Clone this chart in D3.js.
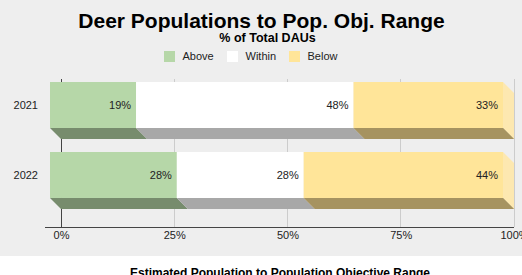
<!DOCTYPE html>
<html>
<head>
<meta charset="utf-8">
<script src="https://cdn.jsdelivr.net/npm/d3@7"></script>
<style>
  body { margin: 0; background: #fff; }
  svg { display: block; font-family: "Liberation Sans", Arial, sans-serif; }
</style>
</head>
<body>
<svg id="chart" width="522" height="275"></svg>
<script>
// chart data
const years = ["2021", "2022"];
const categories = ["Above", "Within", "Below"];
const above = [19, 28];
const within = [48, 28];
const below = [33, 44];
const tickValues = [0, 25, 50, 75, 100];

const frontColor = { Above: "#b6d7a8", Within: "#ffffff", Below: "#ffe599" };
const bottomColor = { Above: "#778c6d", Within: "#a8a8a8", Below: "#a69360" };
const sideColor = { Above: "#cde5c2", Within: "#eeeeee", Below: "#fde8b0" };

const DEPTH = 11;
const W = 522, H = 275;

const svg = d3.select("#chart");

// grey panel, white strip under it
svg.append("rect").attr("width", W).attr("height", 256).attr("fill", "#eeeeee");

const x = d3.scaleLinear().domain([0, 100]).range([61, 514]);
const y = d3.scaleBand()
    .domain(years)
    .range([80, 222])
    .paddingInner(0.343)
    .paddingOuter(0.186);

// stack the series
const rows = years.map((yr, i) => ({ year: yr, Above: above[i], Within: within[i], Below: below[i] }));
const stacked = d3.stack().keys(categories)(rows);

// grid lines
svg.append("g")
    .selectAll("line")
    .data(tickValues)
    .join("line")
    .attr("x1", d => x(d)).attr("x2", d => x(d))
    .attr("y1", 79).attr("y2", 227)
    .attr("stroke", d => d === 0 ? "#444" : "#cccccc")
    .attr("stroke-width", 1)
    .attr("shape-rendering", "crispEdges");

// x axis line
svg.append("line")
    .attr("x1", 45).attr("x2", x(100))
    .attr("y1", 227.5).attr("y2", 227.5)
    .attr("stroke", "#444");

// tick labels
const xAxis = svg.append("g")
    .attr("transform", "translate(0,231)")
    .call(d3.axisBottom(x).tickValues(tickValues).tickSize(0).tickPadding(0).tickFormat(d => d + "%"));
xAxis.select(".domain").remove();
xAxis.selectAll("text")
    .attr("dy", "0.71em")
    .style("font-size", "11px")
    .style("font-family", "Liberation Sans, Arial, sans-serif")
    .attr("fill", "#222");

// y labels
svg.append("g")
    .selectAll("text")
    .data(years)
    .join("text")
    .attr("x", 38)
    .attr("y", d => y(d) - DEPTH + y.bandwidth() / 2)
    .attr("dy", "0.35em")
    .attr("text-anchor", "end")
    .style("font-size", "11px")
    .attr("fill", "#222")
    .text(d => d);

// 3D bars: bottom faces first, then fronts
const bars = svg.append("g");
stacked.forEach(series => {
    const key = series.key;
    series.forEach(seg => {
        const yr = seg.data.year;
        const fx0 = x(seg[0]) - DEPTH, fx1 = x(seg[1]) - DEPTH;
        const fy0 = y(yr) - DEPTH, fy1 = fy0 + y.bandwidth();
        bars.append("polygon")
            .attr("points", [[fx0, fy1], [fx1, fy1], [fx1 + DEPTH, fy1 + DEPTH], [fx0 + DEPTH, fy1 + DEPTH]].join(" "))
            .attr("fill", bottomColor[key]);
    });
});
stacked.forEach(series => {
    const key = series.key;
    series.forEach(seg => {
        const yr = seg.data.year;
        const fx0 = x(seg[0]) - DEPTH, fx1 = x(seg[1]) - DEPTH;
        const fy0 = y(yr) - DEPTH, fy1 = fy0 + y.bandwidth();
        if (seg[1] === 100) {
            bars.append("polygon")
                .attr("points", [[fx1, fy0], [fx1 + DEPTH, fy0 + DEPTH], [fx1 + DEPTH, fy1 + DEPTH], [fx1, fy1]].join(" "))
                .attr("fill", sideColor[key]);
            bars.append("polygon")
                .attr("points", [[fx1, fy1], [fx1 + DEPTH, fy1 + DEPTH], [fx1 - 0, fy1 + DEPTH]].join(" "))
                .attr("fill", bottomColor[key]);
        }
        bars.append("rect")
            .attr("x", fx0).attr("y", fy0)
            .attr("width", fx1 - fx0).attr("height", fy1 - fy0)
            .attr("fill", frontColor[key]);
        bars.append("text")
            .attr("x", fx1 - 5)
            .attr("y", (fy0 + fy1) / 2)
            .attr("dy", "0.35em")
            .attr("text-anchor", "end")
            .style("font-size", "11px")
            .attr("fill", "#222")
            .text((seg[1] - seg[0]) + "%");
    });
});

// titles
svg.append("text")
    .attr("x", 261.5).attr("y", 28)
    .attr("text-anchor", "middle")
    .style("font-size", "21px").style("font-weight", "bold")
    .attr("fill", "#000")
    .text("Deer Populations to Pop. Obj. Range");
svg.append("text")
    .attr("x", 267.5).attr("y", 41.5)
    .attr("text-anchor", "middle")
    .style("font-size", "12.5px").style("font-weight", "bold")
    .attr("fill", "#000")
    .text("% of Total DAUs");

// legend
const legendX = [164, 227, 289];
const legend = svg.append("g")
    .selectAll("g")
    .data(categories)
    .join("g")
    .attr("transform", (d, i) => `translate(${legendX[i]},51)`);
legend.append("rect")
    .attr("width", 11).attr("height", 11)
    .attr("fill", d => frontColor[d]);
legend.append("text")
    .attr("x", 18.5).attr("y", 8.5)
    .style("font-size", "11px")
    .attr("fill", "#222")
    .text(d => d);

// bottom caption (cut off by the frame)
svg.append("text")
    .attr("x", 280).attr("y", 277)
    .attr("text-anchor", "middle")
    .style("font-size", "12px").style("font-weight", "bold")
    .attr("fill", "#000")
    .text("Estimated Population to Population Objective Range");
</script>
</body>
</html>
